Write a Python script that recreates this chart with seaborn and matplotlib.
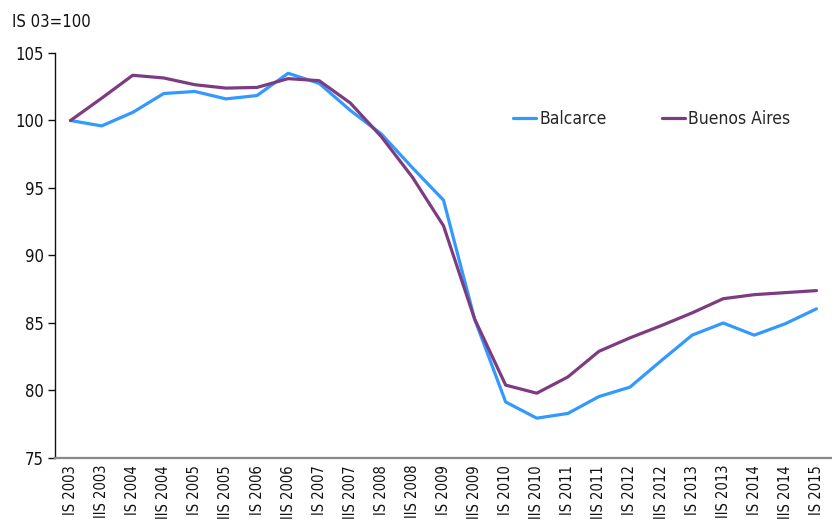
import matplotlib
matplotlib.use("Agg")
import matplotlib.pyplot as plt
import seaborn as sns
import pandas as pd
import numpy as np
from matplotlib.ticker import FixedLocator

periods = ["IS 2003", "IIS 2003", "IS 2004", "IIS 2004", "IS 2005", "IIS 2005",
           "IS 2006", "IIS 2006", "IS 2007", "IIS 2007", "IS 2008", "IIS 2008",
           "IS 2009", "IIS 2009", "IS 2010", "IIS 2010", "IS 2011", "IIS 2011",
           "IS 2012", "IIS 2012", "IS 2013", "IIS 2013", "IS 2014", "IIS 2014",
           "IS 2015"]
balcarce = [100.0, 99.6, 100.6, 102.0, 102.15, 101.6, 101.85, 103.5, 102.75, 100.75,
            99.0, 96.5, 94.1, 85.3, 79.15, 77.95, 78.3, 79.55, 80.25, 82.2,
            84.1, 85.0, 84.1, 84.95, 86.05]
buenos_aires = [100.0, 101.65, 103.35, 103.15, 102.65, 102.4, 102.45, 103.1, 102.95, 101.3,
                98.8, 95.8, 92.2, 85.3, 80.4, 79.8, 81.0, 82.9, 83.9, 84.8,
                85.75, 86.8, 87.1, 87.25, 87.4]
series_names = ["Balcarce", "Buenos Aires"]
colors = {"Balcarce": "#3399FF", "Buenos Aires": "#7D3C81"}

df = pd.DataFrame({
    "idx": list(range(len(periods))) * 2,
    "value": balcarce + buenos_aires,
    "series": [series_names[0]] * len(periods) + [series_names[1]] * len(periods),
})

sns.set_theme(style="white")
plt.rcParams['font.family'] = ['DejaVu Sans']
plt.rcParams['font.stretch'] = 'condensed'

fig = plt.figure(figsize=(8.32, 5.24), dpi=100)
ax = fig.add_axes([55/832, 66/524, 777/832, 405/524])

sns.lineplot(data=df, x="idx", y="value", hue="series", palette=colors,
             linewidth=2.3, ax=ax, legend=True)

ax.set_xlim(-0.5, len(periods) - 0.5)
ax.set_ylim(75, 105)
ax.set_yticks([75, 80, 85, 90, 95, 100, 105])
ax.set_yticklabels(["75", "80", "85", "90", "95", "100", "105"], fontsize=12, color="#111111")

ax.set_xticks(range(len(periods)))
ax.set_xticklabels(periods, rotation=90, fontsize=10.5, color="#111111", va="top")
ax.tick_params(axis="x", which="major", length=0, pad=5)
ax.xaxis.set_minor_locator(FixedLocator(np.arange(-0.5, len(periods), 1.0)))
ax.tick_params(axis="x", which="minor", length=5, color="#888888", width=1.2, direction="out")
ax.tick_params(axis="y", which="major", length=5, color="#111111", width=1, direction="out", pad=3, left=True)

ax.set_xlabel("")
ax.set_ylabel("")
for s in ["top", "right"]:
    ax.spines[s].set_visible(False)
ax.spines["left"].set_color("#111111")
ax.spines["left"].set_linewidth(1.0)
ax.spines["bottom"].set_color("#888888")
ax.spines["bottom"].set_linewidth(1.6)

handles, labels = ax.get_legend_handles_labels()
leg = ax.legend(handles, labels, ncol=2, frameon=False, loc="center",
                bbox_to_anchor=(0.768, 0.837), fontsize=12.5,
                handlelength=1.3, handletextpad=0.2, columnspacing=3.2)
for line in leg.get_lines():
    line.set_linewidth(2.3)

fig.text(12/832, 1 - 22/524, "IS 03=100", fontsize=12, color="#111111", va="center", ha="left")

fig.savefig("out.png", dpi=100)
